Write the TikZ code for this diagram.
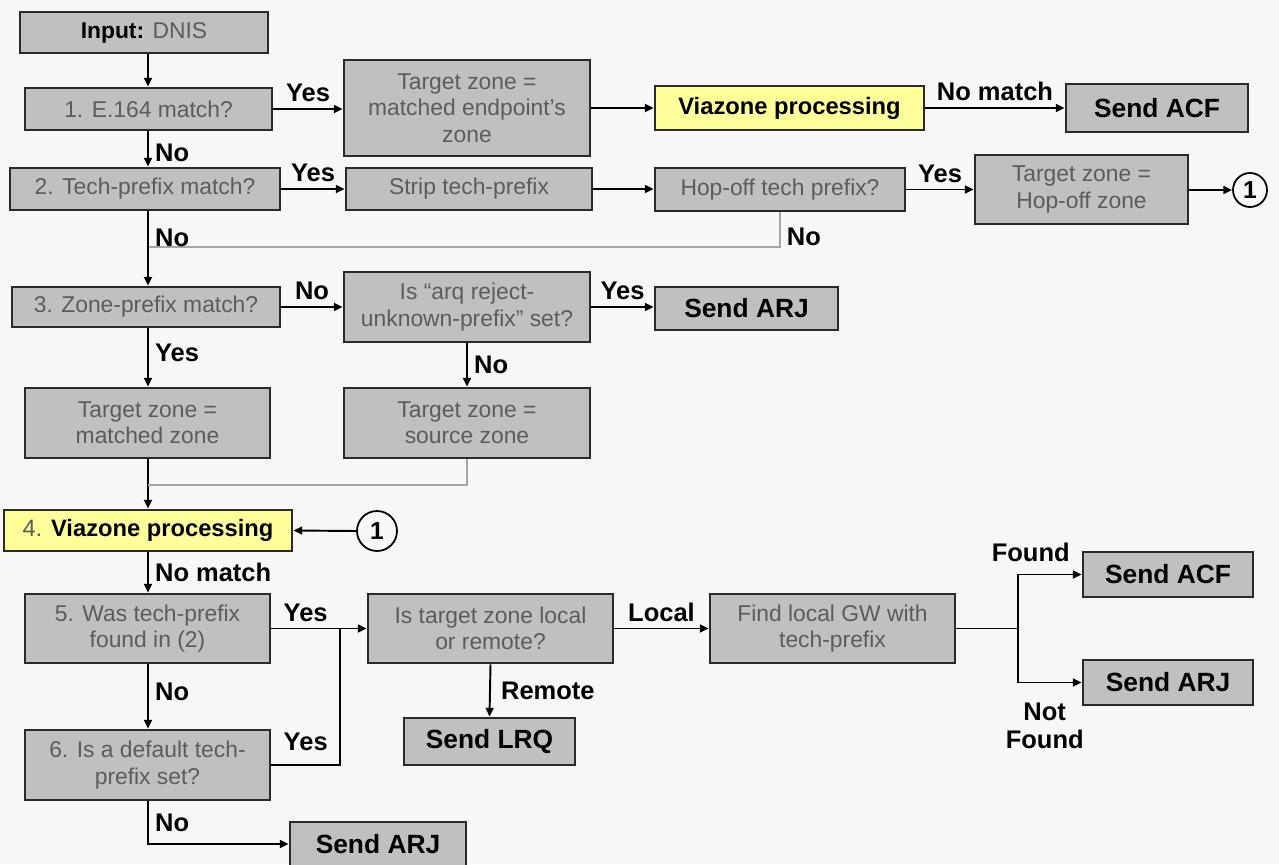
\documentclass[tikz,border=0pt]{standalone}
\usepackage{fontspec}
\setmainfont{Liberation Sans}
\usetikzlibrary{arrows.meta}
\definecolor{pagegray}{RGB}{247,247,247}
\definecolor{boxgray}{RGB}{192,192,192}
\definecolor{edgegray}{RGB}{42,42,42}
\definecolor{textgray}{RGB}{92,92,92}
\definecolor{viayellow}{RGB}{255,255,153}
\definecolor{joingray}{RGB}{165,165,165}
\tikzset{
  >={Triangle[length=5pt,width=4.5pt]},
  box/.style={
    draw=edgegray,
    fill=boxgray,
    line width=1.6pt,
    align=center,
    inner sep=0pt,
    text=textgray,
    font=\fontsize{13}{15}\selectfont
  },
  bsize/.style 2 args={
    minimum width=#1mm,
    minimum height=#2mm
  },
  viabox/.style={
    box,
    fill=viayellow,
    text=black,
    font=\fontsize{13.5}{15}\selectfont\bfseries
  },
  sendbox/.style={
    box,
    text=black,
    font=\fontsize{15}{17}\selectfont\bfseries
  },
  connector/.style={
    circle,
    draw=black,
    fill=pagegray,
    line width=1pt,
    inner sep=0pt,
    font=\fontsize{14}{16}\selectfont\bfseries
  },
  arrow/.style={
    ->,
    line width=1.1pt,
    draw=black
  },
  link/.style={
    line width=1.1pt,
    draw=black
  },
  joinline/.style={
    line width=0.9pt,
    draw=joingray
  },
  lbl/.style={
    font=\fontsize{14.5}{16}\selectfont\bfseries,
    inner sep=3.5pt,
    align=center
  }
}

\begin{document}
\begin{tikzpicture}[x=0.2mm, y=-0.2mm]
\useasboundingbox (0,0) rectangle (1279,864);
\fill[pagegray] (0,0) rectangle (1279,864);

% Main column.
\coordinate (spine) at (148,0);

% Steps 1 and 2.
\node[box, bsize={49.6}{8.2}] (input) at (144,32.5) {{\color{black}\bfseries Input:} DNIS};
\node[box, bsize={49.4}{8.4}] (e164) at (148.5,109) {1. E.164 match?};
\node[box, bsize={49.2}{19.2}] (tzendpt) at (467,108) {Target zone =\\matched endpoint's\\zone};
\node[viabox, bsize={53.8}{8.8}] (viatop) at (789.5,108) {Viazone processing};
\node[sendbox, bsize={36.4}{9.6}] (acftop) at (1157,108) {Send ACF};
\node[box, bsize={54}{8.4}] (techpfx) at (145,189) {2. Tech-prefix match?};
\node[box, bsize={49.2}{8.4}] (strip) at (469,189) {Strip tech-prefix};
\node[box, bsize={50}{8.6}] (hopoffq) at (780,189.5) {Hop-off tech prefix?};
\node[box, bsize={42.6}{13.8}] (tzhopoff) at (1081.5,189.5) {Target zone =\\Hop-off zone};
\node[connector, minimum size=6.8mm] (onetop) at (1250,190) {1};

% Step 3.
\node[box, bsize={53.6}{8}] (zonepfx) at (146,307) {3. Zone-prefix match?};
\node[box, bsize={49.2}{14}] (arqrej) at (467,307) {Is ``arq reject-\\unknown-prefix'' set?};
\node[sendbox, bsize={36.6}{8.6}] (arjtop) at (746.5,308.5) {Send ARJ};
\node[box, bsize={49}{14}] (tzmatched) at (147.5,423) {Target zone =\\matched zone};
\node[box, bsize={49.2}{14}] (tzsource) at (467,423) {Target zone =\\source zone};

% Steps 4 to 6.
\node[viabox, bsize={57.6}{8.2}] (viamain) at (148,530.5) {{\mdseries\color{textgray}4.} Viazone processing};
\node[connector, minimum size=8mm] (onemain) at (377,531) {1};
\node[box, bsize={49}{13.8}] (tpfound) at (147.5,628.5) {5. Was tech-prefix\\found in (2)};
\node[box, bsize={49}{13.8}] (localq) at (490.5,628.5) {Is target zone local\\or remote?};
\node[box, bsize={49}{13.8}] (findgw) at (832.5,628.5) {Find local GW with\\tech-prefix};
\node[sendbox, bsize={34}{9}] (acfgw) at (1168,574.5) {Send ACF};
\node[sendbox, bsize={34}{9}] (arjgw) at (1168,682.5) {Send ARJ};
\node[sendbox, bsize={34.2}{9.4}] (lrq) at (489.5,741.5) {Send LRQ};
\node[box, bsize={49}{14}] (deftp) at (147.5,765) {6. Is a default tech-\\prefix set?};
\node[sendbox, bsize={35.2}{8.8}] (arjend) at (378,844) {Send ARJ};

% Join points.
\coordinate (hopjoin) at (148,247);
\coordinate (srcjoin) at (148,485);
\coordinate (yesjoin) at (340,628.5);
\coordinate (gwsplit) at (1018,628.5);

% Top rows.
\draw[arrow] (input.south -| spine) -- (e164.north -| spine);
\draw[arrow] (e164.east) -- (tzendpt.west |- e164.east) node[lbl, midway, above] {Yes};
\draw[arrow] (tzendpt.east) -- (viatop.west);
\draw[arrow] (viatop.east) -- (acftop.west) node[lbl, midway, above] {No match};
\draw[arrow] (e164.south -| spine) -- (techpfx.north -| spine) node[lbl, midway, right, yshift=-0.8mm] {No};
\draw[arrow] (techpfx.east) -- (strip.west) node[lbl, midway, above] {Yes};
\draw[arrow] (strip.east) -- (hopoffq.west |- strip.east);
\draw[arrow] (hopoffq.east) -- (tzhopoff.west |- hopoffq.east) node[lbl, midway, above] {Yes};
\draw[arrow] (tzhopoff.east |- onetop) -- (onetop.west);
\draw[joinline] (hopoffq.south) |- (hopjoin) node[lbl, pos=0.36, right] {No};
\draw[arrow] (techpfx.south -| spine) -- (zonepfx.north -| spine) node[lbl, pos=0.35, right] {No};

% Zone prefix.
\draw[arrow] (zonepfx.east) -- (arqrej.west |- zonepfx.east) node[lbl, midway, above] {No};
\draw[arrow] (arqrej.east) -- (arjtop.west |- arqrej.east) node[lbl, midway, above] {Yes};
\draw[arrow] (arqrej.south) -- (tzsource.north) node[lbl, midway, right] {No};
\draw[arrow] (zonepfx.south -| spine) -- (tzmatched.north -| spine) node[lbl, midway, right, yshift=1mm] {Yes};
\draw[arrow] (tzmatched.south -| spine) -- (viamain.north -| spine);
\draw[joinline] (tzsource.south) |- (srcjoin);
\draw[arrow] (onemain.west) -- (viamain.east);

% Tech prefix lookup.
\draw[arrow] (viamain.south -| spine) -- (tpfound.north -| spine) node[lbl, midway, right] {No match};
\draw[arrow] (tpfound.east) -- (localq.west) node[lbl, pos=0.36, above] {Yes};
\draw[link] (deftp.east) -| (yesjoin) node[lbl, pos=0.25, above, yshift=1.4mm] {Yes};
\draw[arrow] (tpfound.south -| spine) -- (deftp.north -| spine) node[lbl, midway, right, yshift=1mm] {No};
\draw[arrow] (deftp.south -| spine) |- (arjend.west) node[lbl, pos=0.25, right] {No};
\draw[arrow] (localq.east) -- (findgw.west) node[lbl, midway, above] {Local};
\draw[arrow] (localq.south) -- (lrq.north) node[lbl, midway, right, xshift=0.8mm] {Remote};
\draw[link] (findgw.east) -- (gwsplit);
\draw[arrow] (gwsplit) |- (acfgw.west) node[lbl, pos=0.6, above, yshift=1.2mm] {Found};
\draw[arrow] (gwsplit) |- (arjgw.west) node[lbl, pos=0.71, below, yshift=-2.6mm] {Not\\Found};

\end{tikzpicture}
\end{document}
